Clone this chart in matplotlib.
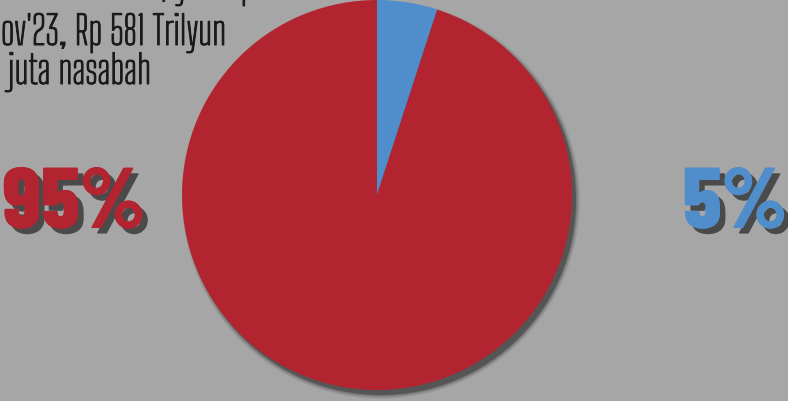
import matplotlib
matplotlib.use("Agg")
import matplotlib.pyplot as plt
import matplotlib.patheffects as pe
from matplotlib.patches import Circle

# Data
categories = ["Dijamin penuh", "Lainnya"]
values = [5, 95]
colors = ["#4f8dcb", "#b22530"]
label_texts = ["5%", "95%"]
header_lines = [
    "Data LPS: total dana di bank, yakni per",
    "per Nov'23, Rp 581 Trilyun",
    "juta nasabah",
]

BG = "#a6a6a6"
W, H = 788, 401
fig = plt.figure(figsize=(W / 100, H / 100), dpi=100, facecolor=BG)
ax = fig.add_axes([0, 0, 1, 1])
ax.set_facecolor(BG)

cx, cy, r = 377, 206, 195

# soft shadow
for i, a in enumerate([0.10, 0.15, 0.25, 0.55]):
    grow = (3 - i) * 1.3
    ax.add_patch(Circle((cx + 4, cy - 5), r + grow, color="#3a3a3a", alpha=a, lw=0, zorder=1))

ax.pie(values, colors=colors, startangle=90, counterclock=False,
       center=(cx, cy), radius=r, frame=True,
       wedgeprops=dict(linewidth=0, zorder=2))
ax.set_xlim(0, W)
ax.set_ylim(0, H)
ax.set_aspect("equal")
ax.axis("off")

big_font = ["Barlow Condensed", "DejaVu Sans"]
shadow = [pe.withSimplePatchShadow(offset=(4, -4), shadow_rgbFace="#3a3a3a", alpha=0.85),
          pe.Normal()]
ax.text(74, 195, label_texts[1], color=colors[1], fontsize=62, fontweight=800,
        family=big_font, ha="center", va="center", path_effects=shadow, zorder=5)
ax.text(735, 195, label_texts[0], color=colors[0], fontsize=62, fontweight=800,
        family=big_font, ha="center", va="center", path_effects=shadow, zorder=5)

small_font = ["Big Shoulders Text", "DejaVu Sans"]
thick = [pe.withStroke(linewidth=0.7, foreground="#1a1a1a")]
ax.text(277, H + 2, header_lines[0], fontsize=28.5, family=small_font, color="#1a1a1a",
        ha="right", va="baseline", zorder=5, path_effects=thick)
ax.text(226, H - 45, header_lines[1], fontsize=28.5, family=small_font, color="#1a1a1a",
        ha="right", va="baseline", zorder=5, path_effects=thick)
ax.text(8, H - 84, header_lines[2], fontsize=28.5, family=small_font, color="#1a1a1a",
        ha="left", va="baseline", zorder=5, path_effects=thick)

fig.savefig("out.png", dpi=100, facecolor=BG)
